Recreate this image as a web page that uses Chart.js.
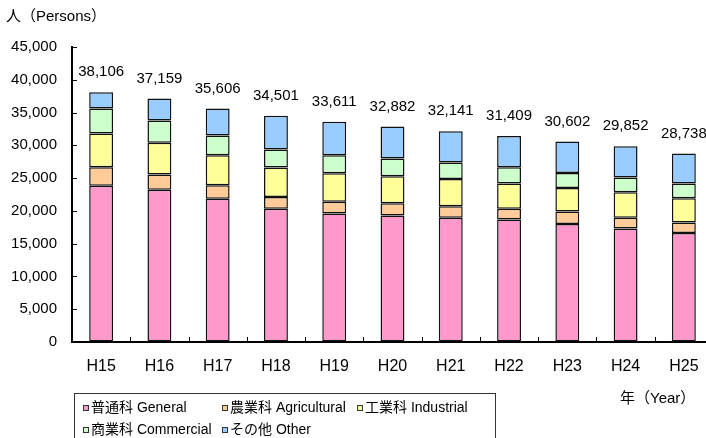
<!DOCTYPE html>
<html>
<head>
<meta charset="utf-8">
<script src="https://cdn.jsdelivr.net/npm/chart.js@4/dist/chart.umd.min.js"></script>
<style>
html,body{margin:0;padding:0;background:#fff;overflow:hidden;width:706px;height:438px;}
#wrap{position:relative;width:720px;height:438px;}
</style>
</head>
<body>
<div id="wrap"><canvas id="c" width="720" height="438"></canvas></div>
<script>
const categories = ["H15","H16","H17","H18","H19","H20","H21","H22","H23","H24","H25"];
const general     = [23850, 23240, 21860, 20330, 19620, 19310, 18960, 18700, 18000, 17320, 16620];
const agricultural= [2800, 2295, 2040, 1800, 1790, 1840, 1730, 1640, 1910, 1640, 1620];
const industrial  = [5150, 4850, 4590, 4480, 4330, 4130, 4190, 3820, 3590, 3870, 3670];
const commercial  = [3820, 3410, 3010, 2750, 2750, 2700, 2490, 2490, 2290, 2250, 2250];
const other       = [2486, 3364, 4106, 5141, 5121, 4902, 4771, 4759, 4812, 4772, 4578];
const totals      = [38106, 37159, 35606, 34501, 33611, 32882, 32141, 31409, 30602, 29852, 28738];
const yTicks      = [0, 5000, 10000, 15000, 20000, 25000, 30000, 35000, 40000, 45000];
const seriesNames = ["普通科 General","農業科 Agricultural","工業科 Industrial","商業科 Commercial","その他 Other"];

const FONT = '"Liberation Sans", "Noto Sans CJK JP", sans-serif';
const colors = ["#FF99CC","#FFCC99","#FFFF99","#CCFFCC","#99CCFF"];
const seriesData = [general, agricultural, industrial, commercial, other];

const fmt = v => v.toLocaleString('en-US');

const extras = {
  id: 'extras',
  afterDatasetsDraw(chart) {
    const ctx = chart.ctx;
    const ca = chart.chartArea;
    const x = chart.scales.x, y = chart.scales.y;
    ctx.save();
    // inward ticks
    ctx.strokeStyle = '#000';
    ctx.lineWidth = 1;
    yTicks.forEach(v => {
      if (v === 0) return;
      const py = Math.round(y.getPixelForValue(v)) + 0.5;
      ctx.beginPath(); ctx.moveTo(ca.left, py); ctx.lineTo(ca.left + 5, py); ctx.stroke();
    });
    const w = (x.getPixelForValue(1) - x.getPixelForValue(0));
    for (let i = 1; i <= categories.length; i++) {
      const px = Math.round(x.getPixelForValue(i - 1) + w / 2) + 0.5;
      ctx.beginPath(); ctx.moveTo(px, ca.bottom); ctx.lineTo(px, ca.bottom - 5); ctx.stroke();
    }
    // totals labels
    const meta = chart.getDatasetMeta(chart.data.datasets.length - 1);
    ctx.fillStyle = '#000';
    ctx.font = '15px ' + FONT;
    ctx.textAlign = 'center';
    ctx.textBaseline = 'middle';
    totals.forEach((t, i) => {
      const bar = meta.data[i];
      ctx.fillText(fmt(t), bar.x, bar.y - 20);
    });
    // axis titles
    ctx.textAlign = 'left';
    ctx.font = '15px ' + FONT;
    ctx.fillText('人（Persons）', 6, 17);
    ctx.fillText('年（Year）', 620, 399);
    // legend
    ctx.strokeStyle = '#333';
    ctx.lineWidth = 1;
    ctx.strokeRect(74.5, 393.5, 421, 60);
    ctx.font = '14px ' + FONT;
    const pos = [[83,408],[222,408],[357,408],[83,430],[222,430]];
    chart.data.datasets.forEach((ds, i) => {
      const [lx, ly] = pos[i];
      ctx.fillStyle = ds.backgroundColor;
      ctx.fillRect(lx, ly - 3, 6, 6);
      ctx.strokeStyle = '#333';
      ctx.strokeRect(lx + 0.5, ly - 2.5, 5, 5);
      ctx.fillStyle = '#000';
      ctx.fillText(ds.label, lx + 8, ly);
    });
    ctx.restore();
  }
};

new Chart(document.getElementById('c'), {
  type: 'bar',
  data: {
    labels: categories,
    datasets: seriesData.map((d, i) => ({
      label: seriesNames[i],
      data: d,
      backgroundColor: colors[i],
      borderColor: '#111',
      borderWidth: 1.5,
      borderSkipped: false,
      categoryPercentage: 1,
      barPercentage: 0.41
    }))
  },
  options: {
    responsive: false,
    devicePixelRatio: 1,
    animation: false,
    layout: { padding: { left: 0, top: 47, right: 7, bottom: 46 } },
    plugins: { legend: { display: false }, tooltip: { enabled: false } },
    scales: {
      x: {
        stacked: true,
        afterFit: s => { s.height = 50; },
        grid: { drawOnChartArea: false, drawTicks: false },
        border: { display: true, color: '#000', width: 2 },
        ticks: { color: '#000', font: { family: FONT, size: 16 }, padding: 15 }
      },
      y: {
        stacked: true,
        min: 0, max: 45000,
        afterFit: s => { s.width = 72; },
        afterBuildTicks: s => { s.ticks = yTicks.map(v => ({ value: v })); },
        grid: { drawOnChartArea: false, drawTicks: false },
        border: { display: true, color: '#000', width: 2 },
        ticks: { color: '#000', font: { family: FONT, size: 15 }, padding: 15, callback: v => fmt(v) }
      }
    }
  },
  plugins: [extras]
});
</script>
</body>
</html>
